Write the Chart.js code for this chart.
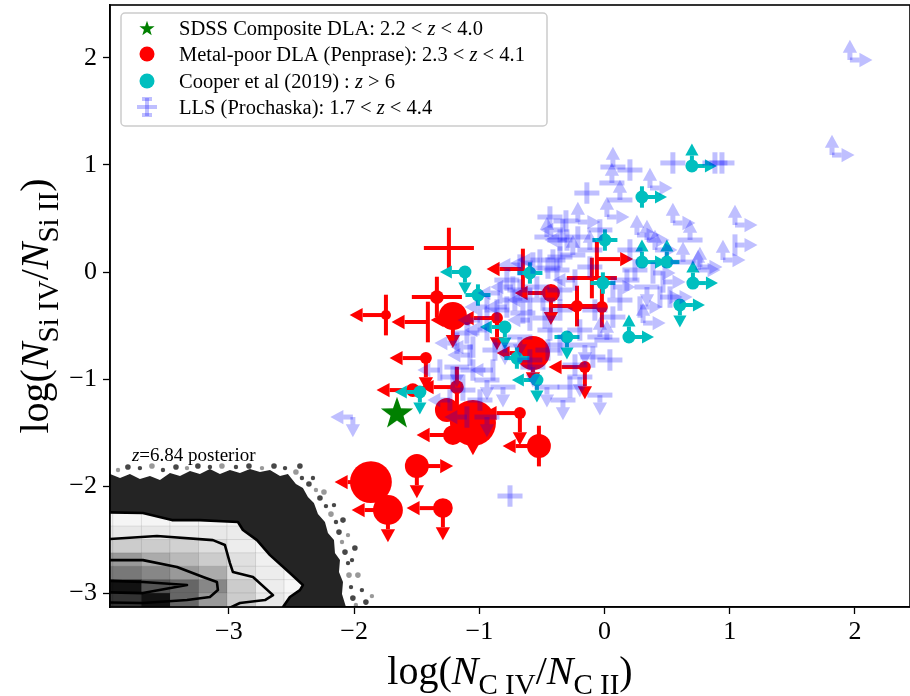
<!DOCTYPE html>
<html>
<head>
<meta charset="utf-8">
<script src="https://cdn.jsdelivr.net/npm/chart.js@4.4.1/dist/chart.umd.min.js"></script>
<style>
  html, body { margin: 0; padding: 0; background: #fff; }
</style>
</head>
<body>
<canvas id="chart" width="910" height="696"></canvas>
<script>
// axis ticks and titles
const xTicks = [-3, -2, -1, 0, 1, 2];
const yTicks = [-3, -2, -1, 0, 1, 2];
const xTitle = "log($N$_{C IV}/$N$_{C II})";
const yTitle = "log($N$_{Si IV}/$N$_{Si II})";

// legend labels, $..$ = italic
const legendLabels = [
  "SDSS Composite DLA: 2.2 < $z$ < 4.0",
  "Metal-poor DLA (Penprase): 2.3 < $z$ < 4.1",
  "Cooper et al (2019) : $z$ > 6",
  "LLS (Prochaska): 1.7 < $z$ < 4.4"
];
const posteriorLabel = "$z$=6.84 posterior";

// limit codes: first char x (e = error bar, l = upper limit, r = lower limit, n = none)
//              second char y (e = error bar, u = lower limit, d = upper limit, n = none)

// SDSS composite DLA
const sdssX = [-1.658];
const sdssY = [-1.308];

// metal-poor DLAs (Penprase)
const dlaX = [-1.243, -1.746, -1.339, -1.411, -1.211, -1.099, -0.859, -0.652, -0.428, -0.220,
  -0.021, -0.061, -0.101, -0.572, -0.157, -1.427, -1.179, -1.531, -1.051, -1.259,
  -1.211, -0.676, -0.524, -1.499, -1.866, -1.730, -1.291];
const dlaY = [0.224, -0.402, -0.234, -0.467, -0.411, -0.449, -0.430, 0.028, -0.196, -0.318,
  -0.327, 0.121, -0.056, -0.757, -0.888, -0.804, -1.075, -1.103, -1.411, -1.290,
  -1.523, -1.318, -1.626, -1.813, -1.963, -2.224, -2.206];
const dlaWeight = [0, 0.22, 0.3, 0, 0.61, 0.22, 0.26, 0, 0.39, 0.26,
  0.26, 0, 0, 0.74, 0.26, 0.26, 0.3, 0.3, 1, 0.52,
  0.43, 0.26, 0.52, 0.52, 0.91, 0.65, 0.43];
const dlaLimits = ["ee", "le", "ee", "le", "nd", "ln", "ld", "le", "ld", "ee",
  "le", "re", "ee", "ld", "ld", "ld", "le", "ln", "nd", "nn",
  "ln", "ld", "le", "rd", "ln", "ld", "ld"];

// Cooper et al (2019)
const cooperX = [0.698, 0.299, 0.003, 0.299, 0.498, 0.706, 0.602, 0.195, -0.300, -0.540,
  -0.700, -0.796, -1.115, -1.011, -0.013, -0.596, -1.475];
const cooperY = [0.991, 0.701, 0.299, 0.093, 0.093, -0.103, -0.308, -0.607, -0.607, -1.009,
  -0.804, -0.514, 0.000, -0.215, -0.103, -0.009, -1.121];
const cooperLimits = ["ru", "re", "ee", "ru", "eu", "ru", "rd", "ru", "ed", "ld",
  "ee", "ld", "ld", "ee", "ee", "ee", "ld"];

// LLS (Prochaska)
const llsX = [1.960, 1.817, 0.546, 0.882, 0.938, 0.067, 0.203, 0.363, -0.308, -0.141,
  -0.436, 0.059, -0.213, 0.019, 0.546, 0.259, -0.333, -0.253, 1.042, 1.042,
  0.946, 0.627, 0.747, 0.467, 0.523, 0.308, 0.019, 0.067, 0.339, -2.010,
  -0.755, -0.300, -0.213, -0.516, -0.356, 0.203, 0.387, -0.652, -0.540, -0.732,
  -0.780, -0.939, -1.051, -0.676, -0.436, -0.197, -0.037, -0.093, -0.197, -0.276,
  -0.572, -0.891, -1.179, -1.131, -0.460, -0.380, -0.117, 0.067, -1.315, -1.211,
  -1.051, -0.939, -0.811, -0.995, -1.099, -0.939, -1.179, -1.099, -0.939, -0.835,
  -0.780, -0.572, -0.412, -0.460, 0.179, 0.339, 0.443, 0.283, 0.762, -0.332,
  -0.492, -0.356, -0.596, -0.077, -0.676, -0.452, -0.875, 0.043, -0.037, 0.683,
  -0.716, -0.596, -0.476, -0.356, -0.236, -0.452, -0.676, -0.859, -0.995, -0.795,
  -0.356, -0.157, -0.236, 0.123, 0.243, -0.117, -0.356, -0.596, -1.075, -1.235,
  -0.037, 0.403, 0.123];
const llsY = [1.981, 1.093, 1.019, 1.019, 1.019, 0.981, 0.953, 0.785, 0.477, 0.738,
  0.514, 0.832, 0.467, 0.514, 0.458, 0.346, 0.393, 0.159, 0.439, 0.252,
  0.112, 0.093, 0.019, -0.093, -0.234, -0.477, -0.636, -0.421, 0.299, -1.355,
  -2.093, 0.299, 0.327, 0.112, 0.140, 0.206, -0.009, -0.383, -0.140, -0.140,
  -0.327, -0.542, -0.701, -0.607, -0.542, -0.542, -0.607, -0.794, -0.981, -1.075,
  -0.888, -0.916, -0.888, -1.103, -1.075, 0.019, 0.047, -0.140, -0.916, -0.981,
  -0.916, -1.009, -1.075, -1.196, -1.355, -1.355, -0.664, -0.570, -0.327, -0.196,
  -0.075, 0.084, 0.112, 0.327, -0.075, -0.140, -0.234, -0.327, 0.047, -1.196,
  -0.262, -0.355, -0.262, -0.355, -0.168, -0.729, -0.729, -0.822, 0.393, 0.299,
  -0.262, -0.449, -0.430, -0.168, -0.075, 0.037, 0.065, -0.355, -0.449, -0.682,
  -0.682, -0.682, -0.869, -0.262, 0.019, 0.206, 0.299, -0.822, -0.776, -1.196,
  -1.150, 0.206, 0.673];
const llsLimits = ["ru", "ru", "ee", "ee", "ee", "eu", "ee", "ru", "ee", "ee",
  "ee", "eu", "ru", "ru", "ru", "ru", "le", "eu", "ru", "re",
  "ru", "eu", "ru", "re", "re", "ru", "eu", "ee", "ru", "ld",
  "ee", "le", "ee", "le", "ee", "ee", "re", "ee", "ee", "le",
  "le", "le", "le", "ed", "ee", "ee", "eu", "ee", "ed", "ee",
  "ed", "le", "ed", "ee", "ed", "ee", "ee", "re", "le", "ee",
  "ee", "ed", "ed", "ee", "le", "ed", "le", "ee", "le", "le",
  "ee", "le", "ee", "eu", "ee", "ed", "re", "re", "ru", "ed",
  "ee", "ee", "le", "ee", "ee", "ee", "ee", "ee", "ee", "eu",
  "ee", "le", "ee", "ee", "le", "ee", "le", "ee", "le", "ed",
  "ee", "ed", "ee", "ee", "ee", "eu", "ee", "ee", "le", "le",
  "ed", "ru", "eu"];

// error / limit lengths in dex
const dlaErr = { x: 0.2, y: 0.19, xLim: 0.29, yLim: 0.3 };
const cooperErr = { x: 0.1, y: 0.1, xLim: 0.2, yLim: 0.21 };
const llsErr = { x: 0.1, y: 0.1, xLim: 0.18, yLim: 0.19 };

// z=6.84 posterior: dense sample region, sparse samples, 2D histogram, contours
const postCloudX = [-4.1, -3.950, -3.870, -3.791, -3.711, -3.631, -3.551, -3.471, -3.391, -3.311,
  -3.232, -3.152, -3.072, -2.992, -2.912, -2.832, -2.752, -2.672, -2.592, -2.529,
  -2.465, -2.409, -2.369, -2.321, -2.289, -2.233, -2.209, -2.161, -2.153, -2.113,
  -2.121, -2.089, -2.097, -2.065, -2.065, -4.1];
const postCloudY = [-1.888, -1.888, -1.925, -1.888, -1.935, -1.907, -1.944, -1.879, -1.907, -1.860,
  -1.888, -1.841, -1.888, -1.850, -1.879, -1.841, -1.869, -1.850, -1.907, -1.888,
  -1.981, -2.019, -2.103, -2.159, -2.262, -2.336, -2.439, -2.505, -2.626, -2.692,
  -2.804, -2.897, -3.009, -3.131, -3.3, -3.3];
const postDotX = [-3.886, -3.807, -3.711, -3.615, -3.527, -3.423, -3.335, -3.248, -3.152, -3.056,
  -2.944, -2.840, -2.736, -2.640, -2.552, -2.465, -2.417, -2.361, -2.305, -2.273,
  -2.225, -2.185, -2.145, -2.121, -2.097, -2.073, -2.049, -2.041, -2.025, -2.010,
  -1.986, -2.433, -2.329, -2.241, -2.161, -2.089, -2.049, -1.994, -2.017, -1.970,
  -1.938, -1.906, -1.858];
const postDotY = [-1.850, -1.822, -1.832, -1.813, -1.850, -1.822, -1.832, -1.813, -1.822, -1.813,
  -1.822, -1.813, -1.832, -1.813, -1.832, -1.869, -1.925, -1.981, -2.037, -2.112,
  -2.187, -2.262, -2.336, -2.430, -2.523, -2.617, -2.720, -2.832, -2.944, -3.047,
  -3.112, -1.813, -1.925, -2.056, -2.178, -2.318, -2.458, -2.579, -2.692, -2.832,
  -2.972, -3.084, -3.028];
const histXEdges = [-4.155, -3.927, -3.699, -3.471, -3.243, -3.015, -2.787, -2.559, -2.331, -2.103];
const histYEdges = [-2.25, -2.375, -2.5, -2.625, -2.75, -2.875, -3.0, -3.125, -3.25];
const histDensity = [
  [0.04, 0.04, 0.04, 0.04, 0.04, 0.04, 0.03, 0.02, 0.02],
  [0.09, 0.09, 0.09, 0.09, 0.09, 0.08, 0.05, 0.03, 0.02],
  [0.20, 0.20, 0.20, 0.18, 0.13, 0.07, 0.03, 0.02, 0.01],
  [0.40, 0.40, 0.33, 0.27, 0.20, 0.12, 0.06, 0.03, 0.01],
  [0.53, 0.53, 0.47, 0.40, 0.33, 0.13, 0.07, 0.03, 0.01],
  [0.93, 0.93, 0.67, 0.60, 0.47, 0.20, 0.07, 0.03, 0.01],
  [0.80, 0.80, 0.93, 0.60, 0.40, 0.20, 0.09, 0.04, 0.01],
  [0.80, 0.80, 0.93, 0.60, 0.40, 0.20, 0.09, 0.04, 0.01]
];
const contourOuterX = [-4.1, -3.687, -3.455, -3.232, -2.928, -2.888, -2.776, -2.672, -2.513, -2.409, -2.433, -2.513, -2.568, -2.592, -4.1];
const contourOuterY = [-2.243, -2.252, -2.318, -2.318, -2.336, -2.411, -2.505, -2.645, -2.813, -2.925, -2.972, -3.037, -3.131, -3.252, -3.3];
const contourMidX = [-4.1, -3.575, -3.128, -3.032, -2.992, -2.968, -2.808, -2.648, -2.712, -2.912, -3.032, -3.032, -4.1];
const contourMidY = [-2.505, -2.467, -2.505, -2.551, -2.720, -2.804, -2.850, -3.019, -3.065, -3.093, -3.159, -3.3, -3.3];
const contourInnerX = [-4.1, -3.687, -3.415, -3.207, -3.096, -3.088, -3.152, -3.335, -3.687, -4.1];
const contourInnerY = [-2.692, -2.692, -2.757, -2.850, -2.897, -2.972, -3.037, -3.065, -3.093, -3.084];
const contourCoreX = [-4.1, -3.687, -3.335, -3.687, -4.1];
const contourCoreY = [-2.879, -2.897, -2.925, -3.000, -2.990];

const FONT = "'Liberation Serif', 'Times New Roman', serif";
const RED = "#ff0000";
const CYAN = "#00bfbf";
const GREEN = "#008000";
const BLUE = "#0000ff";

function toPoints(xs, ys) {
  return xs.map((x, i) => ({ x: x, y: ys[i] }));
}

// splits "$z$" (italic) and "_{...}" (subscript) parts
function parseMath(str) {
  const segs = [];
  const re = /\$([^$]+)\$|_\{([^}]+)\}|([^$_]+)/g;
  let m;
  while ((m = re.exec(str))) {
    if (m[1]) segs.push({ t: m[1], it: true });
    else if (m[2]) segs.push({ t: m[2], sub: true });
    else segs.push({ t: m[3] });
  }
  return segs;
}

function segFont(s, size) {
  return (s.it ? "italic " : "") + (s.sub ? Math.round(size * 0.72) : size) + "px " + FONT;
}

function drawMath(ctx, str, x, y, size, align) {
  const segs = parseMath(str);
  let w = 0;
  segs.forEach(s => { ctx.font = segFont(s, size); w += ctx.measureText(s.t).width; });
  let cx = align === "center" ? x - w / 2 : x;
  ctx.textAlign = "left";
  ctx.textBaseline = "alphabetic";
  segs.forEach(s => {
    ctx.font = segFont(s, size);
    ctx.fillText(s.t, cx, y + (s.sub ? size * 0.24 : 0));
    cx += ctx.measureText(s.t).width;
  });
}

function makeStar(r, color) {
  const c = document.createElement("canvas");
  c.width = c.height = Math.ceil(2 * r + 2);
  const g = c.getContext("2d");
  g.translate(c.width / 2, c.height / 2 + r * 0.1);
  g.beginPath();
  for (let k = 0; k < 10; k++) {
    const rad = k % 2 ? r * 0.4 : r;
    const a = -Math.PI / 2 + k * Math.PI / 5;
    g.lineTo(rad * Math.cos(a), rad * Math.sin(a));
  }
  g.closePath();
  g.fillStyle = color;
  g.fill();
  return c;
}

function arrowHead(ctx, tx, ty, dir, h) {
  // dir: l r u d, (tx,ty) = tip
  const w = h * 0.55;
  ctx.beginPath();
  if (dir === "l") { ctx.moveTo(tx, ty); ctx.lineTo(tx + h, ty - w); ctx.lineTo(tx + h, ty + w); }
  if (dir === "r") { ctx.moveTo(tx, ty); ctx.lineTo(tx - h, ty - w); ctx.lineTo(tx - h, ty + w); }
  if (dir === "u") { ctx.moveTo(tx, ty); ctx.lineTo(tx - w, ty + h); ctx.lineTo(tx + w, ty + h); }
  if (dir === "d") { ctx.moveTo(tx, ty); ctx.lineTo(tx - w, ty - h); ctx.lineTo(tx + w, ty - h); }
  ctx.closePath();
  ctx.fill();
}

function seg(ctx, x1, y1, x2, y2) {
  ctx.beginPath();
  ctx.moveTo(x1, y1);
  ctx.lineTo(x2, y2);
  ctx.stroke();
}

// error bars and limit arrows for one series
function drawLimits(chart, xs, ys, limits, err, st) {
  const { ctx, chartArea: a } = chart;
  const sx = chart.scales.x, sy = chart.scales.y;
  ctx.save();
  ctx.beginPath();
  ctx.rect(a.left, a.top, a.width, a.height);
  ctx.clip();
  ctx.globalAlpha = st.alpha;
  ctx.strokeStyle = st.color;
  ctx.fillStyle = st.color;
  ctx.lineWidth = st.lw;
  ctx.lineCap = "butt";
  const h = st.head;
  xs.forEach((xv, i) => {
    const px = sx.getPixelForValue(xv), py = sy.getPixelForValue(ys[i]);
    const xl = limits[i][0], yl = limits[i][1];
    if (xl === "e") {
      seg(ctx, sx.getPixelForValue(xv - err.x), py, sx.getPixelForValue(xv + err.x), py);
    } else if (xl === "l" || xl === "r") {
      const s = xl === "r" ? 1 : -1;
      const tip = sx.getPixelForValue(xv + s * err.xLim);
      seg(ctx, px, py, tip - s * h, py);
      arrowHead(ctx, tip, py, xl, h);
    }
    if (yl === "e") {
      seg(ctx, px, sy.getPixelForValue(ys[i] - err.y), px, sy.getPixelForValue(ys[i] + err.y));
    } else if (yl === "u" || yl === "d") {
      const s = yl === "u" ? 1 : -1;
      const tip = sy.getPixelForValue(ys[i] + s * err.yLim);
      seg(ctx, px, py, px, tip + s * h);
      arrowHead(ctx, px, tip, yl, h);
    }
  });
  ctx.restore();
}

function tracePath(ctx, sx, sy, xs, ys) {
  ctx.beginPath();
  xs.forEach((v, i) => {
    const px = sx.getPixelForValue(v), py = sy.getPixelForValue(ys[i]);
    if (i === 0) ctx.moveTo(px, py); else ctx.lineTo(px, py);
  });
  ctx.closePath();
}

// posterior samples, histogram and contours
const posteriorPlugin = {
  id: "posterior",
  beforeDatasetsDraw(chart) {
    const { ctx, chartArea: a } = chart;
    const sx = chart.scales.x, sy = chart.scales.y;
    ctx.save();
    ctx.beginPath();
    ctx.rect(a.left, a.top, a.width, a.height);
    ctx.clip();

    tracePath(ctx, sx, sy, postCloudX, postCloudY);
    ctx.fillStyle = "rgba(0,0,0,0.86)";
    ctx.fill();

    postDotX.forEach((v, i) => {
      ctx.fillStyle = i % 3 === 0 ? "rgba(0,0,0,0.4)" : "rgba(0,0,0,0.72)";
      ctx.beginPath();
      ctx.arc(sx.getPixelForValue(v), sy.getPixelForValue(postDotY[i]), i % 2 ? 2.8 : 2.2, 0, Math.PI * 2);
      ctx.fill();
    });

    ctx.save();
    tracePath(ctx, sx, sy, contourOuterX, contourOuterY);
    ctx.clip();
    ctx.fillStyle = "#fff";
    ctx.fill();
    histDensity.forEach((row, r) => {
      row.forEach((v, c) => {
        const g = Math.round(255 * (1 - v));
        const x1 = sx.getPixelForValue(histXEdges[c]), x2 = sx.getPixelForValue(histXEdges[c + 1]);
        const y1 = sy.getPixelForValue(histYEdges[r]), y2 = sy.getPixelForValue(histYEdges[r + 1]);
        ctx.fillStyle = `rgb(${g},${g},${g})`;
        ctx.fillRect(x1, y1, x2 - x1 + 0.5, y2 - y1 + 0.5);
        ctx.strokeStyle = "rgba(0,0,0,0.07)";
        ctx.lineWidth = 1;
        ctx.strokeRect(x1, y1, x2 - x1, y2 - y1);
      });
    });
    ctx.restore();

    ctx.strokeStyle = "#000";
    ctx.lineWidth = 2.6;
    ctx.lineJoin = "round";
    [[contourOuterX, contourOuterY], [contourMidX, contourMidY],
     [contourInnerX, contourInnerY], [contourCoreX, contourCoreY]].forEach(([cx, cy]) => {
      tracePath(ctx, sx, sy, cx, cy);
      ctx.stroke();
    });
    ctx.restore();

    ctx.fillStyle = "#000";
    drawMath(ctx, posteriorLabel, sx.getPixelForValue(-3.775), sy.getPixelForValue(-1.766), 19, "left");
  }
};

// error bars drawn right before each series' markers
const limitsPlugin = {
  id: "limits",
  beforeDatasetDraw(chart, args) {
    const ds = chart.data.datasets[args.index];
    if (ds.limitInfo) {
      const L = ds.limitInfo;
      drawLimits(chart, L.xs, L.ys, L.limits, L.err, L.style);
    }
  }
};

// frame, titles, legend
const decorPlugin = {
  id: "decor",
  afterDraw(chart) {
    const { ctx, chartArea: a } = chart;
    ctx.save();
    ctx.strokeStyle = "#000";
    ctx.lineWidth = 1.6;
    ctx.strokeRect(a.left, a.top, a.right - a.left, a.bottom - a.top);

    ctx.fillStyle = "#000";
    drawMath(ctx, xTitle, (a.left + a.right) / 2, 684, 40, "center");
    ctx.save();
    ctx.translate(48, (a.top + a.bottom) / 2);
    ctx.rotate(-Math.PI / 2);
    drawMath(ctx, yTitle, 0, 0, 40, "center");
    ctx.restore();

    // legend box
    const bx = a.left + 11, by = a.top + 8, bw = 426, bh = 113;
    ctx.beginPath();
    ctx.roundRect(bx, by, bw, bh, 4);
    ctx.fillStyle = "rgba(255,255,255,0.8)";
    ctx.fill();
    ctx.strokeStyle = "#cccccc";
    ctx.lineWidth = 1.5;
    ctx.stroke();

    const mx = bx + 26;
    const rows = [by + 15, by + 41, by + 68, by + 94];
    ctx.drawImage(starIcon, mx - starIcon.width / 2, rows[0] - starIcon.height / 2);
    ctx.fillStyle = RED;
    ctx.beginPath(); ctx.arc(mx, rows[1], 7.5, 0, Math.PI * 2); ctx.fill();
    ctx.fillStyle = CYAN;
    ctx.beginPath(); ctx.arc(mx, rows[2], 7.5, 0, Math.PI * 2); ctx.fill();
    ctx.globalAlpha = 0.25;
    ctx.strokeStyle = BLUE;
    ctx.lineWidth = 4;
    seg(ctx, mx - 10, rows[3], mx + 10, rows[3]);
    seg(ctx, mx, rows[3] - 9, mx, rows[3] + 9);
    seg(ctx, mx - 5, rows[3] - 8, mx + 5, rows[3] - 8);
    seg(ctx, mx - 5, rows[3] + 8, mx + 5, rows[3] + 8);
    ctx.globalAlpha = 1;

    ctx.fillStyle = "#000";
    legendLabels.forEach((t, i) => drawMath(ctx, t, bx + 58, rows[i] + 7, 20.5, "left"));
    ctx.restore();
  }
};

const starIcon = makeStar(8, GREEN);

const tickFont = { family: FONT, size: 26 };
const fmt = v => (v < 0 ? "\u2212" + Math.abs(v) : String(v));
const noPad = s => { s.paddingLeft = 0; s.paddingRight = 0; s.paddingTop = 0; s.paddingBottom = 0; };

new Chart(document.getElementById("chart"), {
  type: "scatter",
  data: {
    datasets: [
      {
        label: "LLS",
        data: toPoints(llsX, llsY),
        pointRadius: 0,
        order: 1,
        limitInfo: { xs: llsX, ys: llsY, limits: llsLimits, err: llsErr,
          style: { color: BLUE, alpha: 0.25, lw: 5, head: 13 } }
      },
      {
        label: "SDSS",
        data: toPoints(sdssX, sdssY),
        pointStyle: makeStar(17, GREEN),
        pointRadius: 17,
        order: 2
      },
      {
        label: "Cooper",
        data: toPoints(cooperX, cooperY),
        pointRadius: 6.5,
        backgroundColor: CYAN,
        borderWidth: 0,
        order: 3,
        limitInfo: { xs: cooperX, ys: cooperY, limits: cooperLimits, err: cooperErr,
          style: { color: CYAN, alpha: 1, lw: 4, head: 12 } }
      },
      {
        label: "DLA",
        data: toPoints(dlaX, dlaY),
        pointRadius: ctx => dlaWeight[ctx.dataIndex] * 23,
        backgroundColor: RED,
        borderWidth: 0,
        order: 4,
        limitInfo: { xs: dlaX, ys: dlaY, limits: dlaLimits, err: dlaErr,
          style: { color: RED, alpha: 1, lw: 4, head: 13 } }
      }
    ]
  },
  options: {
    responsive: false,
    animation: false,
    events: [],
    layout: { autoPadding: false, padding: { top: 5, right: 0, left: 0, bottom: 0 } },
    plugins: { legend: { display: false }, tooltip: { enabled: false } },
    scales: {
      x: {
        type: "linear",
        min: -3.95,
        max: 2.44,
        afterBuildTicks: s => { s.ticks = xTicks.map(v => ({ value: v })); },
        afterFit: s => { s.height = 89; noPad(s); },
        ticks: { color: "#000", font: tickFont, padding: 3, maxRotation: 0, callback: fmt },
        grid: { display: true, drawOnChartArea: false, drawTicks: true, tickLength: 7, tickWidth: 1.3, color: "#000" },
        border: { display: true, color: "#000", width: 1.6 }
      },
      y: {
        type: "linear",
        min: -3.13,
        max: 2.495,
        afterBuildTicks: s => { s.ticks = yTicks.map(v => ({ value: v })); },
        afterFit: s => { s.width = 110; noPad(s); },
        ticks: { color: "#000", font: tickFont, padding: 6, callback: fmt },
        grid: { display: true, drawOnChartArea: false, drawTicks: true, tickLength: 7, tickWidth: 1.3, color: "#000" },
        border: { display: true, color: "#000", width: 1.6 }
      }
    }
  },
  plugins: [posteriorPlugin, limitsPlugin, decorPlugin]
});
</script>
</body>
</html>
